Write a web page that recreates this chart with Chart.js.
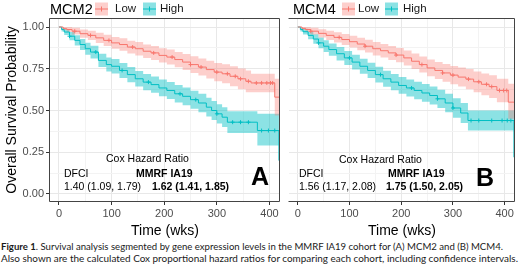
<!DOCTYPE html>
<html lang="en">
<head>
<meta charset="utf-8" />
<title>MCM2 / MCM4 survival</title>
<style>
  * { margin: 0; padding: 0; }
  body { width: 520px; height: 267px; background: #fff; overflow: hidden;
         font-family: "Liberation Sans", Arial, sans-serif; }
  #fig { position: relative; width: 520px; height: 267px; }
  .box { position: absolute; top: 0; }
  .t { position: absolute; white-space: nowrap; line-height: 1; transform: translateY(-50%); color: #000; }
  .title { font-size: 14.5px; }
  .leg { font-size: 11.5px; color: #1a1a1a; }
  .ann { font-size: 10.5px; }
  .b { font-weight: bold; }
  .tag { font-size: 25px; font-weight: bold; }
  .sw { position: absolute; width: 13px; height: 13px; transform: translateY(-50%); }
  .sw i { position: absolute; left: 0; right: 0; top: 6px; height: 1px; }
  .sw u { position: absolute; left: 6px; top: 4px; width: 1px; height: 5px; }
  .cap { position: absolute; left: 1px; white-space: nowrap; line-height: 1; transform-origin: 0 50%;
         font-family: Lato, "Open Sans", sans-serif; font-size: 10.3px; color: #1a1a1a; }
</style>
</head>
<body>
<div id="fig">
  <div class="box" style="left:0;width:285px;height:240px"><canvas id="chartA" width="285" height="240"></canvas></div>
  <div class="box" style="left:284px;width:236px;height:240px"><canvas id="chartB" width="236" height="240"></canvas></div>

  <div class="t title" style="left:50px;top:9px">MCM2</div>
  <div class="sw" style="left:95px;top:9px;background:rgba(248,118,109,0.35)"><i style="background:#F8766D"></i><u style="background:#F8766D"></u></div>
  <div class="t leg" style="left:115px;top:9px">Low</div>
  <div class="sw" style="left:143px;top:9px;background:rgba(0,191,196,0.45)"><i style="background:#00BFC4"></i><u style="background:#00BFC4"></u></div>
  <div class="t leg" style="left:160px;top:9px">High</div>

  <div class="t title" style="left:293px;top:9px">MCM4</div>
  <div class="sw" style="left:342px;top:9px;background:rgba(248,118,109,0.35)"><i style="background:#F8766D"></i><u style="background:#F8766D"></u></div>
  <div class="t leg" style="left:358px;top:9px">Low</div>
  <div class="sw" style="left:385px;top:9px;background:rgba(0,191,196,0.45)"><i style="background:#00BFC4"></i><u style="background:#00BFC4"></u></div>
  <div class="t leg" style="left:403px;top:9px">High</div>

  <div class="t ann" style="left:106px;top:158px">Cox Hazard Ratio</div>
  <div class="t ann" style="left:64px;top:173px">DFCI</div>
  <div class="t ann b" style="left:136px;top:173px">MMRF IA19</div>
  <div class="t ann" style="left:64px;top:186px">1.40 (1.09, 1.79)</div>
  <div class="t ann b" style="left:152px;top:186px">1.62 (1.41, 1.85)</div>
  <div class="t tag" style="left:251px;top:176px">A</div>

  <div class="t ann" style="left:339px;top:159px">Cox Hazard Ratio</div>
  <div class="t ann" style="left:299px;top:173px">DFCI</div>
  <div class="t ann b" style="left:388px;top:173px">MMRF IA19</div>
  <div class="t ann" style="left:299px;top:186px">1.56 (1.17, 2.08)</div>
  <div class="t ann b" style="left:386px;top:186px">1.75 (1.50, 2.05)</div>
  <div class="t tag" style="left:476px;top:177px">B</div>

  <div class="cap" id="cap1" style="top:241px"><b>Figure 1</b>. Survival analysis segmented by gene expression levels in the MMRF IA19 cohort for (A) MCM2 and (B) MCM4.</div>
  <div class="cap" id="cap2" style="top:253px">Also shown are the calculated Cox proportional hazard ratios for comparing each cohort, including confidence intervals.</div>
</div>

<script src="https://cdn.jsdelivr.net/npm/chart.js"></script>
<script>
  // axis ticks
  const xMajor = [0, 100, 200, 300, 400];
  const xMinor = [50, 150, 250, 350];
  const yMajor = [0, 0.25, 0.5, 0.75, 1];
  const yMinor = [0.125, 0.375, 0.625, 0.875];

  // MCM2, low expression
  const a_lowTime  = [0, 8, 15, 25, 40, 55, 70, 85, 100, 115, 130, 145, 160, 175, 190, 205, 220, 235, 250, 265, 280, 295, 310, 325, 340, 355, 365, 410, 419];
  const a_lowSurv  = [1, 0.99, 0.985, 0.975, 0.96, 0.95, 0.935, 0.92, 0.905, 0.895, 0.88, 0.87, 0.855, 0.845, 0.83, 0.82, 0.805, 0.79, 0.775, 0.76, 0.745, 0.73, 0.72, 0.705, 0.69, 0.675, 0.665, 0.58, 0.58];
  const a_lowLower = [1, 0.98, 0.97, 0.955, 0.935, 0.922, 0.905, 0.887, 0.87, 0.858, 0.842, 0.83, 0.814, 0.803, 0.787, 0.775, 0.759, 0.742, 0.725, 0.709, 0.692, 0.675, 0.663, 0.645, 0.628, 0.61, 0.61, 0.47, 0.47];
  const a_lowUpper = [1, 1, 1, 0.995, 0.985, 0.978, 0.965, 0.953, 0.94, 0.932, 0.918, 0.91, 0.896, 0.887, 0.873, 0.865, 0.851, 0.838, 0.825, 0.811, 0.798, 0.785, 0.777, 0.765, 0.752, 0.74, 0.72, 0.69, 0.69];
  const a_lowCens  = [30, 60, 95, 140, 180, 215, 250, 270, 300, 320, 335, 345, 360, 375, 385, 395, 402, 406];

  // MCM2, high expression
  const a_highTime  = [0, 5, 10, 20, 30, 40, 50, 60, 75, 90, 100, 115, 130, 145, 160, 175, 190, 205, 220, 235, 250, 265, 280, 290, 300, 310, 320, 377, 418];
  const a_highSurv  = [1, 0.985, 0.97, 0.945, 0.92, 0.895, 0.87, 0.85, 0.8, 0.775, 0.765, 0.74, 0.715, 0.69, 0.67, 0.655, 0.635, 0.62, 0.6, 0.585, 0.565, 0.545, 0.52, 0.5, 0.48, 0.46, 0.43, 0.38, 0.2];
  const a_highLower = [1, 0.973, 0.952, 0.92, 0.89, 0.862, 0.834, 0.812, 0.76, 0.733, 0.721, 0.695, 0.669, 0.643, 0.622, 0.606, 0.585, 0.569, 0.548, 0.532, 0.511, 0.49, 0.464, 0.443, 0.422, 0.401, 0.365, 0.29, 0.29];
  const a_highUpper = [1, 0.997, 0.988, 0.97, 0.95, 0.928, 0.906, 0.888, 0.84, 0.817, 0.809, 0.785, 0.761, 0.737, 0.718, 0.704, 0.685, 0.671, 0.652, 0.638, 0.619, 0.6, 0.576, 0.557, 0.538, 0.519, 0.495, 0.48, 0.48];
  const a_highCens  = [20, 70, 120, 170, 230, 260, 300, 330, 345, 360, 385, 398, 410];

  // MCM4, low expression
  const b_lowTime  = [0, 8, 15, 25, 40, 55, 70, 85, 100, 115, 130, 145, 160, 175, 190, 205, 220, 235, 250, 265, 280, 295, 310, 325, 340, 355, 370, 385, 407, 419];
  const b_lowSurv  = [1, 0.992, 0.985, 0.975, 0.962, 0.95, 0.938, 0.925, 0.912, 0.898, 0.885, 0.87, 0.858, 0.845, 0.832, 0.815, 0.795, 0.775, 0.755, 0.74, 0.725, 0.712, 0.7, 0.688, 0.672, 0.657, 0.643, 0.62, 0.55, 0.55];
  const b_lowLower = [1, 0.982, 0.97, 0.955, 0.937, 0.922, 0.908, 0.892, 0.877, 0.861, 0.847, 0.83, 0.817, 0.803, 0.789, 0.77, 0.749, 0.727, 0.705, 0.689, 0.672, 0.657, 0.643, 0.628, 0.61, 0.592, 0.575, 0.55, 0.45, 0.45];
  const b_lowUpper = [1, 1, 1, 0.995, 0.987, 0.978, 0.968, 0.958, 0.947, 0.935, 0.923, 0.91, 0.899, 0.887, 0.875, 0.86, 0.841, 0.823, 0.805, 0.791, 0.778, 0.767, 0.757, 0.748, 0.734, 0.722, 0.711, 0.69, 0.66, 0.66];
  const b_lowCens  = [25, 80, 130, 190, 240, 280, 300, 330, 350, 365, 375, 390, 398, 404];

  // MCM4, high expression
  const b_highTime  = [0, 5, 10, 20, 30, 40, 50, 60, 75, 90, 105, 120, 135, 150, 165, 180, 195, 210, 225, 240, 255, 270, 285, 300, 315, 329, 418];
  const b_highSurv  = [1, 0.985, 0.972, 0.95, 0.928, 0.905, 0.885, 0.865, 0.84, 0.815, 0.79, 0.765, 0.74, 0.715, 0.69, 0.67, 0.65, 0.635, 0.62, 0.605, 0.59, 0.57, 0.545, 0.515, 0.485, 0.44, 0.22];
  const b_highLower = [1, 0.973, 0.955, 0.927, 0.9, 0.873, 0.85, 0.828, 0.8, 0.773, 0.746, 0.72, 0.694, 0.668, 0.642, 0.621, 0.6, 0.584, 0.568, 0.552, 0.536, 0.515, 0.489, 0.457, 0.425, 0.38, 0.38];
  const b_highUpper = [1, 0.997, 0.989, 0.973, 0.956, 0.937, 0.92, 0.902, 0.88, 0.857, 0.834, 0.81, 0.786, 0.762, 0.738, 0.719, 0.7, 0.686, 0.672, 0.658, 0.644, 0.625, 0.601, 0.573, 0.545, 0.5, 0.5];
  const b_highCens  = [40, 100, 160, 220, 270, 300, 335, 350, 375, 395, 405, 412];

  const RED = "#F8766D", RED_BAND = "rgba(248,118,109,0.35)";
  const TEAL = "#00BFC4", TEAL_BAND = "rgba(0,191,196,0.45)";

  const pts = (time, vals) => time.map((t, i) => ({ x: t, y: vals[i] }));
  // survival value at a censoring time: last step at or before it
  const stepAt = (time, surv, c) => {
    let v = surv[0];
    for (let i = 0; i < time.length; i++) if (time[i] <= c) v = surv[i];
    return v;
  };

  function groupSets(time, surv, lower, upper, cens, line, band) {
    return [
      { data: pts(time, upper), stepped: true, borderWidth: 0, pointRadius: 0, fill: false, order: 3 },
      { data: pts(time, lower), stepped: true, borderWidth: 0, pointRadius: 0, fill: "-1", backgroundColor: band, order: 3 },
      { data: pts(time, surv), stepped: true, borderColor: line, borderWidth: 1, pointRadius: 0, fill: false, order: 1 },
      { data: cens.map((c) => ({ x: c, y: stepAt(time, surv, c) })), showLine: false, pointStyle: "cross",
        pointRadius: 2, borderColor: line, borderWidth: 1, order: 0 },
    ];
  }

  // ggplot-like panel border
  const panelBorder = {
    id: "panelBorder",
    afterDraw(chart, args, opts) {
      const { ctx, chartArea: a } = chart;
      const l = Math.round(a.left) - 0.5, r = Math.round(a.right) - 0.5;
      const t = Math.round(a.top) - 0.5, b = Math.round(a.bottom) + 0.5;
      ctx.save();
      ctx.strokeStyle = "#444";
      ctx.lineWidth = 1;
      ctx.beginPath();
      if (opts.left) { ctx.moveTo(l, b); ctx.lineTo(l, t); } else { ctx.moveTo(l, t); }
      ctx.lineTo(r, t);
      ctx.lineTo(r, b);
      ctx.lineTo(l, b);
      ctx.stroke();
      ctx.restore();
    },
  };

  const isMajorX = (v) => xMajor.includes(v);
  const isMajorY = (v) => yMajor.includes(v);

  function makeChart(id, datasets, showY) {
    return new Chart(document.getElementById(id), {
      type: "line",
      data: { datasets },
      options: {
        responsive: false,
        animation: false,
        devicePixelRatio: 1,
        layout: { padding: { top: 19, right: 1, bottom: 0, left: 0 } },
        plugins: { legend: { display: false }, tooltip: { enabled: false }, panelBorder: { left: showY } },
        scales: {
          x: {
            type: "linear",
            min: -17,
            max: 420,
            afterBuildTicks: (ax) => { ax.ticks = xMajor.concat(xMinor).sort((p, q) => p - q).map((v) => ({ value: v })); },
            afterFit: (ax) => { ax.height = 39; },
            ticks: {
              autoSkip: false, maxRotation: 0, padding: 2,
              color: "#4d4d4d", font: { family: "Liberation Sans", size: 11 },
              callback: (v) => (isMajorX(v) ? String(v) : ""),
            },
            grid: {
              color: (c) => (c.tick && isMajorX(c.tick.value) ? "#e8e8e8" : "#f3f3f3"),
              tickColor: (c) => (c.tick && isMajorX(c.tick.value) ? "#333" : "rgba(0,0,0,0)"),
              tickLength: 4,
            },
            border: { display: false },
            title: { display: true, text: "Time (wks)", color: "#000", font: { family: "Liberation Sans", size: 14 }, padding: { top: 2, bottom: 0 } },
          },
          y: {
            min: -0.042,
            max: 1.048,
            afterBuildTicks: (ax) => { ax.ticks = yMajor.concat(yMinor).sort((p, q) => p - q).map((v) => ({ value: v })); },
            afterFit: (ax) => { ax.width = showY ? 50 : 0; },
            ticks: {
              display: showY, autoSkip: false, padding: 2,
              color: "#4d4d4d", font: { family: "Liberation Sans", size: 11 },
              callback: (v) => (isMajorY(v) ? v.toFixed(2) : ""),
            },
            grid: {
              color: (c) => (c.tick && isMajorY(c.tick.value) ? "#e8e8e8" : "#f3f3f3"),
              tickColor: (c) => (showY && c.tick && isMajorY(c.tick.value) ? "#333" : "rgba(0,0,0,0)"),
              tickLength: showY ? 4 : 0,
              drawTicks: showY,
            },
            border: { display: false },
            title: { display: showY, text: "Overall Survival Probability", color: "#000", font: { family: "Liberation Sans", size: 14 }, padding: { top: 4, bottom: 0 } },
          },
        },
      },
      plugins: [panelBorder],
    });
  }

  makeChart("chartA",
    groupSets(a_lowTime, a_lowSurv, a_lowLower, a_lowUpper, a_lowCens, RED, RED_BAND)
      .concat(groupSets(a_highTime, a_highSurv, a_highLower, a_highUpper, a_highCens, TEAL, TEAL_BAND)),
    true);

  makeChart("chartB",
    groupSets(b_lowTime, b_lowSurv, b_lowLower, b_lowUpper, b_lowCens, RED, RED_BAND)
      .concat(groupSets(b_highTime, b_highSurv, b_highLower, b_highUpper, b_highCens, TEAL, TEAL_BAND)),
    false);

  // caption lines: keep the type size, squeeze horizontally to the widths in the figure
  function fitWidth(el, target) {
    const w = el.getBoundingClientRect().width;
    el.style.transform = "scaleX(" + (target / w).toFixed(4) + ")";
  }
  fitWidth(document.getElementById("cap1"), 502);
  fitWidth(document.getElementById("cap2"), 517);
</script>
</body>
</html>
